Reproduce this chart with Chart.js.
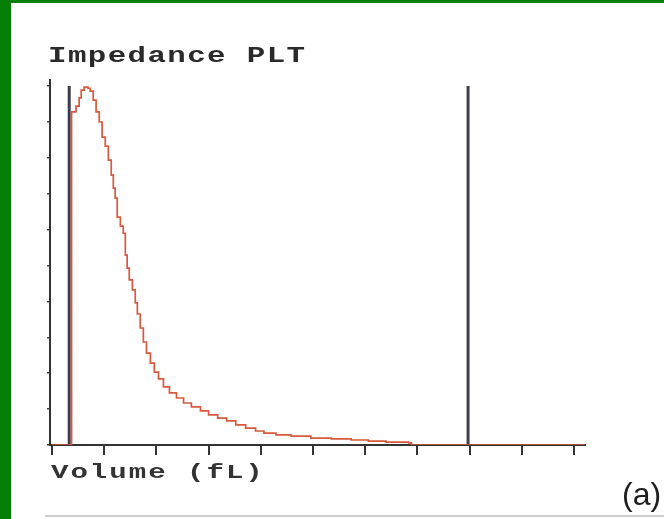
<!DOCTYPE html>
<html>
<head>
<meta charset="utf-8">
<script src="https://cdn.jsdelivr.net/npm/chart.js@4/dist/chart.umd.min.js"></script>
<style>
  html, body { margin:0; padding:0; background:#ffffff; width:664px; height:519px; overflow:hidden; }
  #gl { position:absolute; left:0; top:0; width:11px; height:519px; background:#067f06; }
  #gt { position:absolute; left:0; top:0; width:664px; height:3px; background:#067f06; }
  #c { position:absolute; left:0; top:0; }
</style>
</head>
<body>
<div id="gl"></div><div id="gt"></div>
<canvas id="c" width="664" height="519"></canvas>
<script>
// Histogram channels (volume, arbitrary channel units 0..100) and relative counts
const volume = [0, 3.75, 4.6, 5.2, 5.6, 6.15, 6.9, 7.3, 7.9, 8.45, 9.05, 9.6, 10.2, 10.8, 11.35, 11.75,
  12.1, 12.5, 13.1, 13.65, 14.05, 14.4, 14.8, 15.4, 15.95, 16.35, 16.9, 17.5, 18.1, 18.85, 19.6,
  20.4, 21.35, 22.5, 23.85, 25.2, 26.7, 28.45, 30, 31.75, 33.45, 35.2, 37.1, 39, 40.6, 42.9,
  45.8, 49.6, 53.5, 57.3, 60.6, 64, 68.3, 68.85, 102.1];
const counts = [0, 92.8, 94.4, 96.7, 98.9, 99.7, 99.4, 98.6, 96.1, 92.8, 90, 85.8, 83.3, 79.4, 75.2, 71.6,
  68.8, 63.5, 61, 59, 52.9, 49.3, 46, 43.2, 39.6, 36.5, 32.6, 28.7, 25.6, 22.8, 20.3,
  18.4, 16.2, 14.5, 13.1, 11.7, 10.6, 9.5, 8.4, 7.5, 6.7, 5.6, 4.7, 3.9, 3.3, 2.8,
  2.5, 1.9, 1.7, 1.4, 1.1, 0.8, 0.6, 0, 0];
// Discriminator positions
const lowerDiscriminator = 3.3;
const upperDiscriminator = 79.7;
const discriminatorHeight = [0, 100];
// Axis tick values
const xTicks = [0, 10, 20, 30, 40, 50, 60, 70, 80, 90, 100];
const yTicks = [0, 10, 20, 30, 40, 50, 60, 70, 80, 90, 100];

const titleText = 'Impedance PLT';
const xLabel = 'Volume (fL)';
const panelLabel = '(a)';

const curve = volume.map((v, i) => ({ x: v, y: counts[i] }));
const vline = (x) => discriminatorHeight.map(y => ({ x: x, y: y }));

function stretchedText(ctx, text, x, y, font, sx, ls, color) {
  ctx.save();
  ctx.font = font;
  ctx.fillStyle = color;
  ctx.textBaseline = 'alphabetic';
  ctx.textAlign = 'left';
  ctx.translate(x, y);
  ctx.scale(sx, 1);
  try { ctx.letterSpacing = ls + 'px'; } catch (e) {}
  ctx.fillText(text, 0, 0);
  ctx.restore();
}

const textPlugin = {
  id: 'texts',
  afterDraw(chart) {
    const ctx = chart.ctx;
    stretchedText(ctx, titleText, 48, 62, 'bold 22px "Liberation Mono", "DejaVu Sans Mono", monospace', 1.4, 1, '#2a2a2a');
    stretchedText(ctx, xLabel, 51, 478, 'bold 20px "Liberation Mono", "DejaVu Sans Mono", monospace', 1.45, 1.4, '#333333');
    ctx.save();
    ctx.font = '32px "Liberation Sans", Arial, sans-serif';
    ctx.fillStyle = '#1e1e1e';
    ctx.textBaseline = 'alphabetic';
    ctx.fillText(panelLabel, 622, 505);
    ctx.strokeStyle = '#cfcfcf';
    ctx.lineWidth = 2;
    ctx.beginPath();
    ctx.moveTo(45, 516);
    ctx.lineTo(664, 516);
    ctx.stroke();
    ctx.restore();
  }
};

new Chart(document.getElementById('c'), {
  type: 'line',
  data: {
    datasets: [
      { data: curve, stepped: 'before', borderColor: '#d85a3e', borderWidth: 1.7, pointRadius: 0, fill: false, order: 0 },
      { data: vline(lowerDiscriminator), borderColor: '#3d3a4a', borderWidth: 3, pointRadius: 0, order: 1 },
      { data: vline(upperDiscriminator), borderColor: '#3f3f4d', borderWidth: 3, pointRadius: 0, order: 1 }
    ]
  },
  options: {
    responsive: false,
    animation: false,
    layout: { padding: { top: 80, right: 79, left: 0, bottom: 0 } },
    plugins: { legend: { display: false }, tooltip: { enabled: false }, title: { display: false } },
    scales: {
      x: {
        type: 'linear', min: -0.38, max: 102.1, position: 'bottom',
        afterFit: s => { s.height = 74; },
        afterBuildTicks: s => { s.ticks = xTicks.map(v => ({ value: v })); },
        ticks: { display: false },
        grid: { drawOnChartArea: false, drawTicks: true, tickLength: 10, lineWidth: 2, color: '#333333' },
        border: { display: true, color: '#333333', width: 2 }
      },
      y: {
        type: 'linear', min: 0, max: 101.7,
        afterFit: s => { s.width = 50; },
        afterBuildTicks: s => { s.ticks = yTicks.map(v => ({ value: v })); },
        ticks: { display: false },
        grid: { drawOnChartArea: false, drawTicks: true, tickLength: 3, lineWidth: 1.5, color: '#444444' },
        border: { display: true, color: '#333333', width: 2 }
      }
    }
  },
  plugins: [textPlugin]
});
</script>
</body>
</html>
